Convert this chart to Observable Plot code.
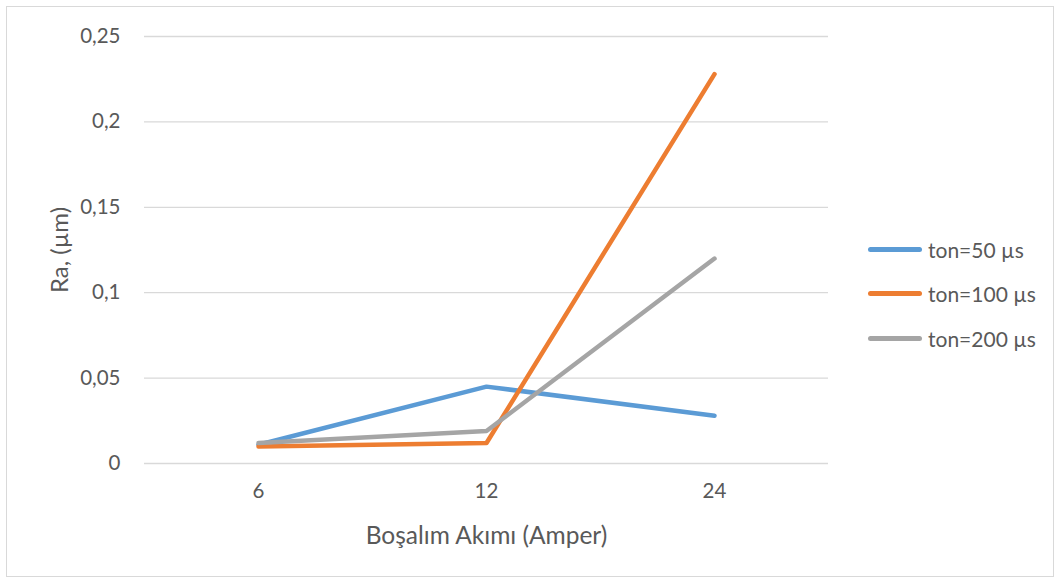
<!DOCTYPE html>
<html>
<head>
<meta charset="utf-8">
<script src="https://cdn.jsdelivr.net/npm/d3@7"></script>
<script src="https://cdn.jsdelivr.net/npm/@observablehq/plot@0.6"></script>
<style>
  html, body { margin: 0; padding: 0; background: #fff; }
  #wrap { position: relative; width: 1060px; height: 583px; font-family: Lato, "Open Sans", sans-serif; }
  #frame { position: absolute; left: 6px; top: 6px; width: 1046px; height: 569px; border: 1px solid #d9d9d9; box-sizing: content-box; pointer-events: none; }
  #chart { position: absolute; left: 0; top: 0; }
  #legend { position: absolute; left: 868px; top: 227px; font-size: 21px; color: #595959; }
  .item { display: flex; align-items: center; height: 44.5px; }
  .swatch { width: 54px; height: 5px; border-radius: 3px; margin-right: 6px; }
</style>
</head>
<body>
<div id="wrap">
  <div id="chart"></div>
  <div id="frame"></div>
  <div id="legend"></div>
</div>
<script>
const categories = ["6", "12", "24"];
const seriesNames = ["ton=50 µs", "ton=100 µs", "ton=200 µs"];
const colors = ["#5B9BD5", "#ED7D31", "#A5A5A5"];
const ton50 = [0.011, 0.045, 0.028];
const ton100 = [0.010, 0.012, 0.228];
const ton200 = [0.012, 0.019, 0.120];
const yTicks = [0, 0.05, 0.1, 0.15, 0.2, 0.25];
const xLabel = "Boşalım Akımı (Amper)";
const yLabel = "Ra, (µm)";

const allSeries = [ton50, ton100, ton200];
const data = [];
allSeries.forEach((vals, si) => {
  vals.forEach((v, i) => data.push({series: seriesNames[si], x: categories[i], y: v}));
});

const fmt = d => String(d).replace(".", ",");

const plot = Plot.plot({
  width: 1060,
  height: 583,
  marginLeft: 144,
  marginRight: 232,
  marginTop: 36,
  marginBottom: 120,
  style: {fontFamily: "Lato, 'Open Sans', sans-serif", fontSize: "20px", color: "#595959", background: "transparent"},
  x: {type: "point", domain: categories, padding: 0.5},
  y: {domain: [0, 0.25]},
  color: {domain: seriesNames, range: colors},
  marks: [
    Plot.ruleY(yTicks, {stroke: "#d9d9d9", strokeWidth: 1.3, strokeOpacity: 1}),
    Plot.axisY({ticks: yTicks, tickFormat: fmt, tickSize: 0, tickPadding: 24, fontSize: 20.5, label: null, fill: "#595959"}),
    Plot.axisY({ticks: [], tickSize: 0, label: yLabel, labelAnchor: "center", labelOffset: 94, labelArrow: "none", fontSize: 24, fill: "#595959"}),
    Plot.axisX({tickSize: 0, tickPadding: 20, fontSize: 20.5, label: null, fill: "#595959"}),
    Plot.axisX({ticks: [], tickSize: 0, label: xLabel, labelAnchor: "center", labelOffset: 80, labelArrow: "none", fontSize: 24.5, fill: "#595959"}),
    Plot.line(data, {x: "x", y: "y", z: "series", stroke: "series", strokeWidth: 4.5, strokeLinecap: "round", strokeLinejoin: "round"})
  ]
});
document.getElementById("chart").appendChild(plot);

const legend = document.getElementById("legend");
seriesNames.forEach((name, i) => {
  const item = document.createElement("div");
  item.className = "item";
  const sw = document.createElement("div");
  sw.className = "swatch";
  sw.style.background = colors[i];
  const t = document.createElement("span");
  t.textContent = name;
  item.appendChild(sw);
  item.appendChild(t);
  legend.appendChild(item);
});
</script>
</body>
</html>
